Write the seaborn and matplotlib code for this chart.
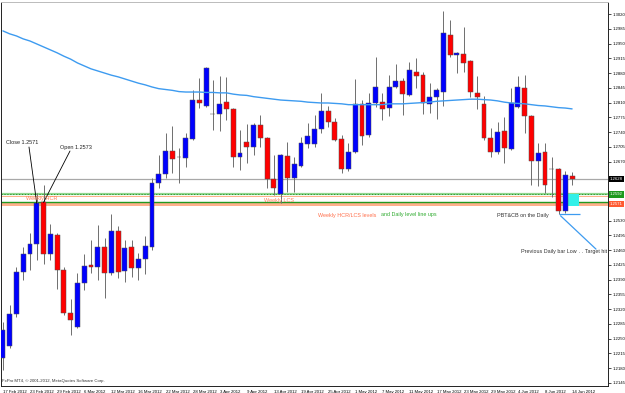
import matplotlib
matplotlib.use("Agg")
import matplotlib.pyplot as plt
from matplotlib.patches import Rectangle
from matplotlib.transforms import blended_transform_factory
import seaborn as sns
import pandas as pd
import numpy as np

# ---------------- data ----------------
opens = [1.2204, 1.2233, 1.2309, 1.2408, 1.2451, 1.2475, 1.2573, 1.2451, 1.2496, 1.2413,
         1.2311, 1.2278, 1.2382, 1.2425, 1.2420, 1.2468, 1.2406, 1.2506, 1.2411, 1.2468,
         1.2418, 1.2439, 1.2468, 1.2619, 1.2641, 1.2695, 1.2681, 1.2679, 1.2724, 1.2816,
         1.2802, 1.2783, 1.2783, 1.2811, 1.2795, 1.2681, 1.2717, 1.2705, 1.2757, 1.2726,
         1.2629, 1.2593, 1.2683, 1.2631, 1.2660, 1.2712, 1.2712, 1.2747, 1.2790, 1.2764,
         1.2724, 1.2653, 1.2693, 1.2807, 1.2733, 1.2809, 1.2811, 1.2797, 1.2847, 1.2861,
         1.2828, 1.2883, 1.2875, 1.2807, 1.2823, 1.2835, 1.2970, 1.2923, 1.2925, 1.2909,
         1.2833, 1.2807, 1.2726, 1.2693, 1.2743, 1.2700, 1.2799, 1.2845, 1.2778, 1.2671,
         1.2693, 1.2653, 1.2653, 1.2553, 1.2636]
highs = [1.2290, 1.2330, 1.2420, 1.2468, 1.2501, 1.2596, 1.2615, 1.2522, 1.2501, 1.2420,
         1.2344, 1.2406, 1.2451, 1.2484, 1.2520, 1.2489, 1.2546, 1.2517, 1.2484, 1.2484,
         1.2453, 1.2494, 1.2631, 1.2686, 1.2738, 1.2755, 1.2702, 1.2738, 1.2840, 1.2868,
         1.2894, 1.2864, 1.2873, 1.2871, 1.2797, 1.2745, 1.2759, 1.2762, 1.2781, 1.2728,
         1.2686, 1.2688, 1.2717, 1.2681, 1.2728, 1.2762, 1.2781, 1.2833, 1.2802, 1.2773,
         1.2733, 1.2714, 1.2866, 1.2816, 1.2833, 1.2918, 1.2833, 1.2875, 1.2902, 1.2868,
         1.2906, 1.2916, 1.2883, 1.2856, 1.2845, 1.3027, 1.3006, 1.2930, 1.2989, 1.2911,
         1.2873, 1.2826, 1.2750, 1.2764, 1.2776, 1.2845, 1.2873, 1.2875, 1.2781, 1.2714,
         1.2714, 1.2681, 1.2655, 1.2648, 1.2645]
lows = [1.2176, 1.2228, 1.2302, 1.2389, 1.2413, 1.2437, 1.2427, 1.2437, 1.2368, 1.2306,
        1.2259, 1.2275, 1.2366, 1.2406, 1.2389, 1.2347, 1.2401, 1.2394, 1.2385, 1.2396,
        1.2389, 1.2404, 1.2460, 1.2607, 1.2631, 1.2643, 1.2619, 1.2657, 1.2721, 1.2797,
        1.2799, 1.2745, 1.2743, 1.2769, 1.2657, 1.2650, 1.2667, 1.2686, 1.2705, 1.2607,
        1.2591, 1.2572, 1.2598, 1.2598, 1.2657, 1.2702, 1.2705, 1.2738, 1.2752, 1.2719,
        1.2643, 1.2648, 1.2690, 1.2709, 1.2728, 1.2799, 1.2769, 1.2778, 1.2845, 1.2781,
        1.2826, 1.2845, 1.2783, 1.2785, 1.2771, 1.2802, 1.2918, 1.2880, 1.2883, 1.2823,
        1.2795, 1.2721, 1.2681, 1.2688, 1.2667, 1.2698, 1.2797, 1.2738, 1.2615, 1.2612,
        1.2596, 1.2586, 1.2546, 1.2548, 1.2615]
closes = [1.2271, 1.2309, 1.2408, 1.2451, 1.2475, 1.2571, 1.2451, 1.2498, 1.2413, 1.2311,
          1.2294, 1.2382, 1.2422, 1.2420, 1.2468, 1.2406, 1.2506, 1.2408, 1.2465, 1.2418,
          1.2439, 1.2470, 1.2619, 1.2641, 1.2695, 1.2676, 1.2680, 1.2726, 1.2816, 1.2809,
          1.2892, 1.2782, 1.2807, 1.2795, 1.2681, 1.2690, 1.2705, 1.2757, 1.2726, 1.2629,
          1.2607, 1.2686, 1.2631, 1.2664, 1.2714, 1.2731, 1.2747, 1.2790, 1.2764, 1.2721,
          1.2653, 1.2693, 1.2807, 1.2731, 1.2809, 1.2847, 1.2795, 1.2847, 1.2861, 1.2830,
          1.2887, 1.2873, 1.2809, 1.2823, 1.2840, 1.2975, 1.2923, 1.2928, 1.2904, 1.2835,
          1.2823, 1.2726, 1.2693, 1.2740, 1.2702, 1.2809, 1.2847, 1.2778, 1.2671, 1.2690,
          1.2615, 1.2652, 1.2553, 1.2638, 1.2628]
ma = [1.2980, 1.2973, 1.2968, 1.2961, 1.2956, 1.2949, 1.2942, 1.2935, 1.2928, 1.2920,
      1.2913, 1.2904, 1.2897, 1.2890, 1.2885, 1.2880, 1.2875, 1.2871, 1.2866, 1.2861,
      1.2856, 1.2852, 1.2847, 1.2843, 1.2841, 1.2839, 1.2836, 1.2835, 1.2835, 1.2835,
      1.2834, 1.2834, 1.2833, 1.2833, 1.2830, 1.2828, 1.2827, 1.2824, 1.2822, 1.2820,
      1.2818, 1.2816, 1.2815, 1.2814, 1.2813, 1.2811, 1.2810, 1.2809, 1.2809, 1.2808,
      1.2807, 1.2805, 1.2805, 1.2805, 1.2805, 1.2805, 1.2805, 1.2807, 1.2807, 1.2807,
      1.2808, 1.2809, 1.2810, 1.2811, 1.2813, 1.2814, 1.2815, 1.2816, 1.2817, 1.2818,
      1.2818, 1.2817, 1.2816, 1.2814, 1.2811, 1.2809, 1.2808, 1.2807, 1.2805, 1.2803,
      1.2802, 1.2800, 1.2798, 1.2797, 1.2795]
date_labels = ["17 Feb 2012", "23 Feb 2012", "29 Feb 2012", "6 Mar 2012", "12 Mar 2012",
               "16 Mar 2012", "22 Mar 2012", "28 Mar 2012", "3 Apr 2012", "9 Apr 2012",
               "13 Apr 2012", "19 Apr 2012", "25 Apr 2012", "1 May 2012", "7 May 2012",
               "11 May 2012", "17 May 2012", "23 May 2012", "29 May 2012", "4 Jun 2012",
               "8 Jun 2012", "14 Jun 2012"]
price_ticks = [1.2145, 1.2180, 1.2215, 1.2250, 1.2285, 1.2320, 1.2355, 1.2390, 1.2425,
               1.2460, 1.2495, 1.2530, 1.2565, 1.2600, 1.2635, 1.2670, 1.2705, 1.2740,
               1.2775, 1.2810, 1.2845, 1.2880, 1.2915, 1.2950, 1.2985, 1.3020]
hidden_ticks = [1.2565, 1.2600, 1.2635]   # covered by the price boxes in the reference
bid_level = 1.2628
daily_upper = 1.2592
daily_lower = 1.2573
weekly_upper = (1.2586, 1.2589)
weekly_lower = (1.2565, 1.2572)
close_label = "Close 1.2571"
open_label = "Open 1.2573"

# ---------------- build ----------------
df = pd.DataFrame({"open": opens, "high": highs, "low": lows, "close": closes, "ma": ma})
df["idx"] = np.arange(len(df))
df["bull"] = df["close"] >= df["open"]
df["bottom"] = df[["open", "close"]].min(axis=1)
df["height"] = (df["close"] - df["open"]).abs().clip(lower=0.00006)

sns.set_style("white")
plt.rcParams["font.family"] = ["Liberation Sans", "DejaVu Sans"]

W, H = 625, 393
fig = plt.figure(figsize=(W / 100, H / 100), dpi=100)
fig.patch.set_facecolor("white")
ax = fig.add_axes([0.5 / W, 7 / H, 607.5 / W, 384 / H])


def fpx(x, y):
    return x / W, 1 - y / H


# level lines / bands
ax.axhspan(*weekly_upper, color="#FFB08C", lw=0, zorder=1)
ax.axhspan(*weekly_lower, color="#FFB08C", lw=0, zorder=1)
ax.axhline(daily_upper, color="#8FD68F", lw=1.6, zorder=1.2)
ax.axhline(daily_upper, color="#1E8C1E", lw=0.6, ls=(0, (1.5, 2)), zorder=1.3)
ax.axhline(daily_lower, color="#229922", lw=1.0, zorder=1.2)
ax.axhline(bid_level, color="#A8A8A8", lw=0.9, zorder=1.2)

# candles
ax.vlines(df["idx"], df["low"], df["high"], color="#6E6E6E", lw=0.7, zorder=2)
colors = np.where(df["bull"], "#0000FF", "#FF0000")
ax.bar(df["idx"], df["height"], bottom=df["bottom"], width=0.72, color=colors,
       edgecolor="#505050", linewidth=0.35, zorder=3)

# moving average
sns.lineplot(data=df, x="idx", y="ma", color="#3D9BF0", lw=1.0, ax=ax, zorder=4)

# cyan box & target lines
ax.add_patch(Rectangle((83.35, weekly_lower[0]), 1.65, daily_upper - weekly_lower[0],
                       facecolor="#33F0E8", edgecolor="none", zorder=2.5))
ax.hlines(lows[82], 82, 85.1, color="#3D9BF0", lw=0.9, zorder=4)
ax.annotate("", xy=(82, lows[82]), xycoords="data",
            xytext=fpx(598, 251), textcoords="figure fraction",
            arrowprops=dict(arrowstyle="-", color="#3D9BF0", lw=0.9), zorder=4)

# annotation lines for close/open
ax.annotate("", xy=(5, closes[5]), xycoords="data", xytext=fpx(29, 147),
            textcoords="figure fraction",
            arrowprops=dict(arrowstyle="-", color="black", lw=0.6, shrinkA=0, shrinkB=0))
ax.annotate("", xy=(6, opens[6]), xycoords="data", xytext=fpx(70, 151),
            textcoords="figure fraction",
            arrowprops=dict(arrowstyle="-", color="black", lw=0.6, shrinkA=0, shrinkB=0))

# axes
ax.set_xlim(-0.35, 89.3)
ax.set_ylim(1.21378, 1.30485)
ax.yaxis.tick_right()
ax.set_yticks(price_ticks)
ax.set_yticklabels(["" if v in hidden_ticks else f"{v:.4f}" for v in price_ticks])
ax.set_xticks(np.arange(0, len(df), 4))
ax.set_xticklabels(date_labels, ha="left")
ax.tick_params(axis="both", labelsize=3.1, length=2, width=0.5, pad=1, colors="black")
ax.tick_params(axis="x", pad=0.8)
ax.set_xlabel("")
ax.set_ylabel("")
for s in ax.spines.values():
    s.set_color("#222222")
    s.set_linewidth(0.7)
ax.spines["top"].set_color("#BBBBBB")

# right-side price boxes
tr = blended_transform_factory(ax.transAxes, ax.transData)
for val, txt, fc in [(bid_level, "1.2628", "black"), (daily_upper, "1.2592", "#1E9A1E"),
                     (daily_lower - 0.0003, "1.2571", "#FF5A32")]:
    ax.text(1.003, val, txt, transform=tr, fontsize=3.1, color="white", va="center",
            ha="left", clip_on=False, zorder=10,
            bbox=dict(boxstyle="square,pad=0.25", fc=fc, ec="none"))

# texts
fig.text(*fpx(6, 143), close_label, fontsize=4, color="#222222", va="center")
fig.text(*fpx(60, 147), open_label, fontsize=4, color="#222222", va="center")
fig.text(*fpx(26, 198.5), "Weekly HCR", fontsize=4, color="#FF7F5A", va="center")
fig.text(*fpx(264, 200.5), "Weekly LCS", fontsize=4, color="#FF7F5A", va="center")
fig.text(*fpx(318, 216), "Weekly HCR/LCS levels", fontsize=3.9, color="#FF6E4A", va="center")
fig.text(*fpx(381, 215), "and Daily level line ups", fontsize=3.9, color="#2EAA2E", va="center")
fig.text(*fpx(497, 216), "PBT&CB on the Daily", fontsize=3.9, color="#333333", va="center")
fig.text(*fpx(521, 252), "Previous Daily bar Low", fontsize=3.9, color="#333333", va="center")
fig.text(*fpx(579, 252), ". . Target hit", fontsize=3.9, color="#333333", va="center")
fig.text(*fpx(2, 381), "FxPro MT4, \u00a9 2001-2012, MetaQuotes Software Corp.",
         fontsize=3.1, color="#333333", va="center")

fig.savefig("out.png", dpi=100, facecolor="white")
